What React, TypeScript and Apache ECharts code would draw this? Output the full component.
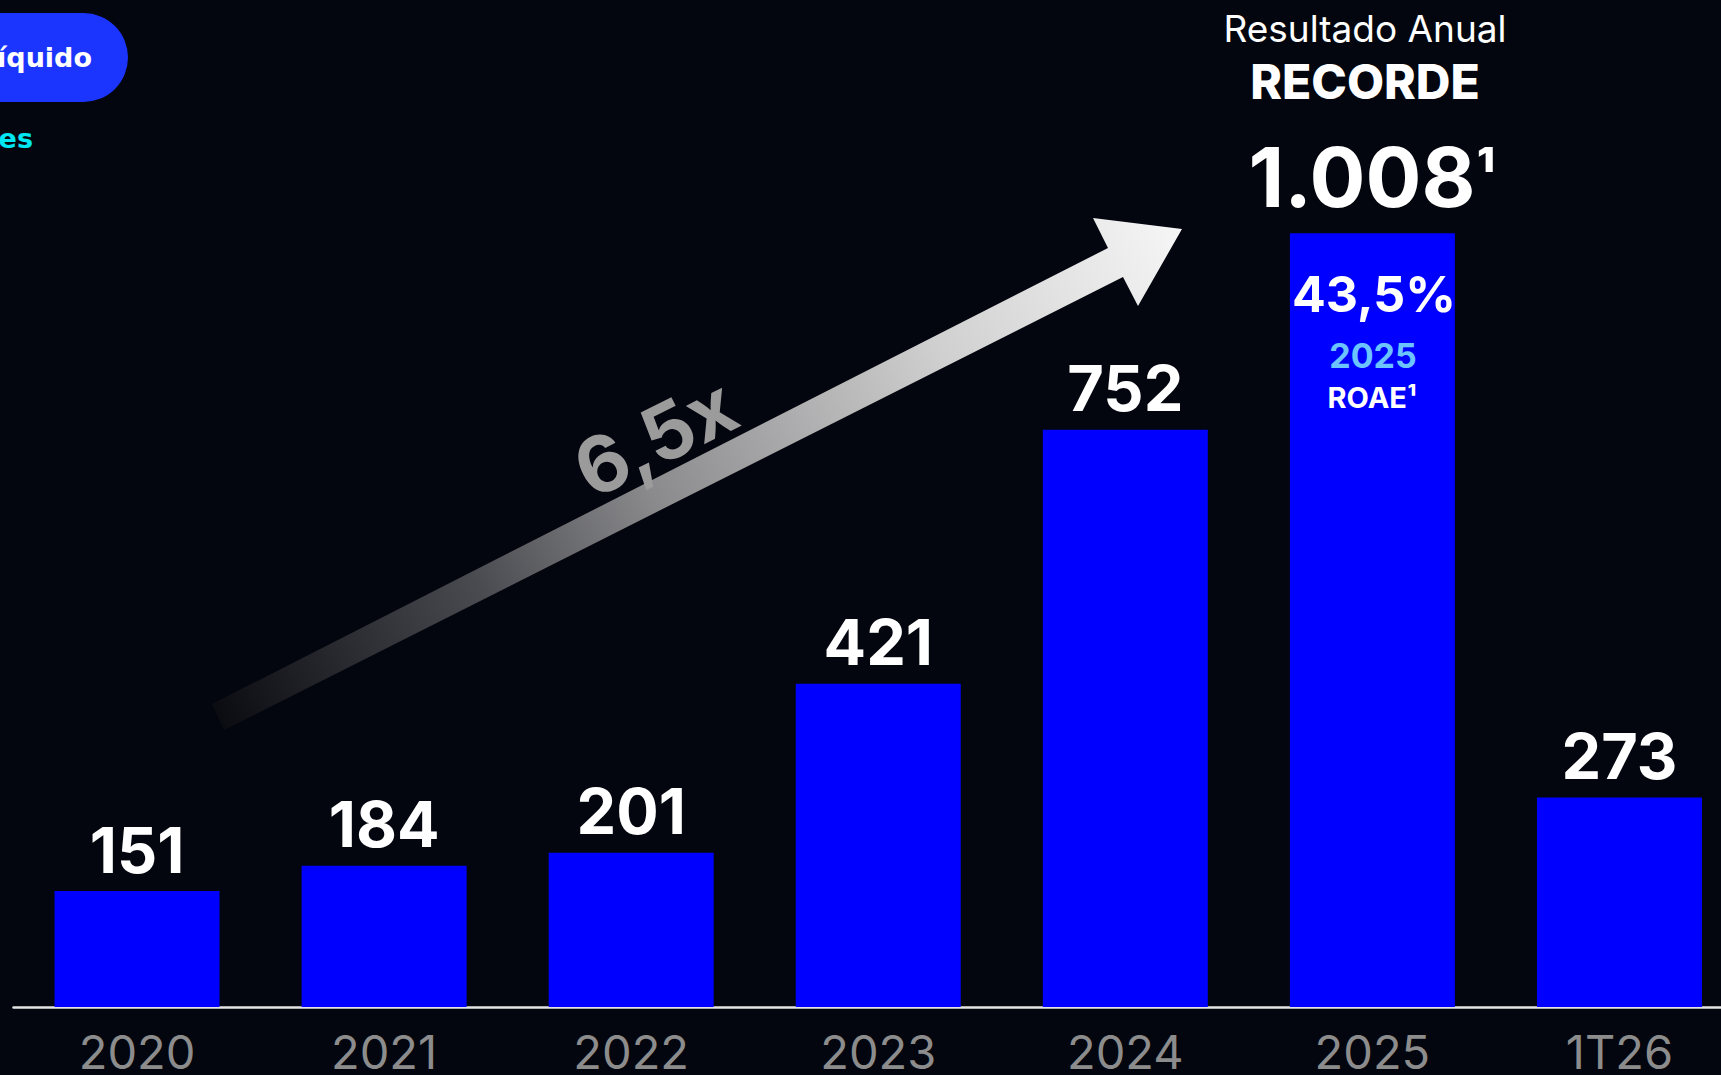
import React, { useEffect, useRef } from "react";
import * as echarts from "echarts";

const categories = ["2020", "2021", "2022", "2023", "2024", "2025", "1T26"];
const lucroLiquido = [151, 184, 201, 421, 752, 1008, 273];
const footnotes = ["", "", "", "", "", "¹", ""];
const highlightIndex = 5;
const growthLabel = "6,5x";
const roaeValue = "43,5%";
const roaeYear = "2025";
const roaeLabel = "ROAE¹";
const headerLine1 = "Resultado Anual";
const headerLine2 = "RECORDE";
const pillText = "Lucro Líquido";
const unitText = "R$ milhões";

const FONT = 'Inter, "Noto Sans", sans-serif';
const PILL_FONT = '"DejaVu Sans", Verdana, sans-serif';

const fmt = (v: number) => String(v).replace(/\B(?=(\d{3})+(?!\d))/g, ".");

export default function App() {
  const ref = useRef<HTMLDivElement>(null);

  useEffect(() => {
    document.body.style.margin = "0";
    document.body.style.overflow = "hidden";
    document.body.style.background = "#03060e";
    const chart = echarts.init(ref.current!, null, { renderer: "svg" });

    const data = lucroLiquido.map((v, i) =>
      i === highlightIndex
        ? {
            value: v,
            label: {
              distance: 15,
              formatter: (p: any) =>
                `{v|${fmt(p.value)}}{s|${footnotes[p.dataIndex]}}`,
              rich: {
                v: { fontSize: 83, fontWeight: 700, fontFamily: FONT, color: "#ffffff" },
                s: {
                  fontSize: 62,
                  fontWeight: 700,
                  fontFamily: FONT,
                  color: "#ffffff",
                  verticalAlign: "top",
                  padding: [10, 0, 0, 0],
                },
              },
            },
          }
        : v
    );

    chart.setOption({
      animation: false,
      backgroundColor: "#03060e",
      grid: { left: 13.5, top: 9, right: 0, height: 1004, containLabel: false },
      xAxis: {
        type: "category",
        data: categories,
        axisLine: { show: true, lineStyle: { color: "#e4e4e4", width: 2.5 } },
        axisTick: { show: false },
        axisLabel: {
          color: "#8c8c8c",
          fontSize: 47,
          fontFamily: FONT,
          fontWeight: 400,
          margin: 21,
        },
      },
      yAxis: {
        type: "value",
        min: 0,
        max: 1300,
        show: false,
        splitLine: { show: false },
      },
      series: [
        {
          type: "bar",
          data,
          barWidth: 165,
          z: 5,
          itemStyle: { color: "#0000ff" },
          label: {
            show: true,
            position: "top",
            distance: 10,
            color: "#ffffff",
            fontSize: 63,
            fontWeight: 700,
            fontFamily: FONT,
            formatter: (p: any) => fmt(p.value) + footnotes[p.dataIndex],
          },
        },
      ],
      graphic: [
        {
          type: "polygon",
          z: 1,
          shape: {
            points: [
              [212, 704],
              [1108, 248],
              [1093, 218],
              [1182, 229],
              [1138, 306],
              [1123, 277],
              [224, 730],
            ],
          },
          style: {
            fill: {
              type: "linear",
              x: 218,
              y: 717,
              x2: 1182,
              y2: 229,
              global: true,
              colorStops: [
                { offset: 0, color: "#0a0c12" },
                { offset: 0.27, color: "#4a4b50" },
                { offset: 0.45, color: "#8a8a8d" },
                { offset: 0.75, color: "#d0d0d0" },
                { offset: 1, color: "#f6f6f6" },
              ],
            },
          },
        },
        {
          type: "text",
          z: 10,
          x: 655,
          y: 437,
          rotation: 0.465,
          style: {
            text: growthLabel,
            fill: "#9b9b9b",
            font: `700 78px ${FONT}`,
            textAlign: "center",
            textVerticalAlign: "middle",
          },
        },
        {
          type: "rect",
          z: 10,
          shape: { x: -80, y: 13, width: 208, height: 89, r: 44.5 },
          style: { fill: "#1b35ff" },
        },
        {
          type: "text",
          z: 11,
          x: 92,
          y: 57.7,
          style: {
            text: pillText,
            fill: "#ffffff",
            font: `700 27px ${PILL_FONT}`,
            textAlign: "right",
            textVerticalAlign: "middle",
          },
        },
        {
          type: "text",
          z: 11,
          x: 33,
          y: 138.6,
          style: {
            text: unitText,
            fill: "#00e6f2",
            font: `700 27px ${PILL_FONT}`,
            textAlign: "right",
            textVerticalAlign: "middle",
          },
        },
        {
          type: "text",
          z: 11,
          x: 1365,
          y: 28.5,
          style: {
            text: headerLine1,
            fill: "#ffffff",
            font: `400 37px ${FONT}`,
            textAlign: "center",
            textVerticalAlign: "middle",
          },
        },
        {
          type: "text",
          z: 11,
          x: 1365,
          y: 81,
          style: {
            text: headerLine2,
            fill: "#ffffff",
            font: `800 48px ${FONT}`,
            textAlign: "center",
            textVerticalAlign: "middle",
          },
        },
        {
          type: "text",
          z: 11,
          x: 1374,
          y: 294,
          style: {
            text: roaeValue,
            fill: "#ffffff",
            font: `700 50px ${FONT}`,
            textAlign: "center",
            textVerticalAlign: "middle",
          },
        },
        {
          type: "text",
          z: 11,
          x: 1373,
          y: 355.5,
          style: {
            text: roaeYear,
            fill: "#6cc4ff",
            font: `700 34px ${FONT}`,
            textAlign: "center",
            textVerticalAlign: "middle",
          },
        },
        {
          type: "text",
          z: 11,
          x: 1372,
          y: 397.5,
          style: {
            text: roaeLabel,
            fill: "#ffffff",
            font: `700 29px ${FONT}`,
            textAlign: "center",
            textVerticalAlign: "middle",
          },
        },
      ],
    });

    return () => chart.dispose();
  }, []);

  return <div ref={ref} style={{ width: 1743, height: 1075 }} />;
}
